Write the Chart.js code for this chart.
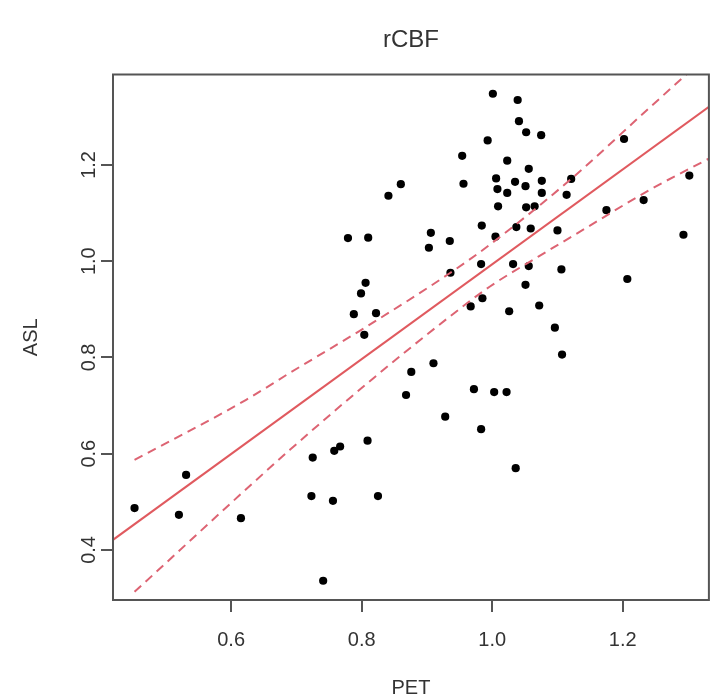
<!DOCTYPE html>
<html>
<head>
<meta charset="utf-8">
<script src="https://cdn.jsdelivr.net/npm/chart.js@4/dist/chart.umd.min.js"></script>
<style>
  html, body { margin: 0; padding: 0; background: #ffffff; }
  #wrap { width: 713px; height: 698px; }
</style>
</head>
<body>
<div id="wrap"><canvas id="chart" width="713" height="698"></canvas></div>
<script>
// Regional cerebral blood flow: PET vs ASL measurements
const petValues = [
  0.452, 0.531, 0.520, 0.615, 0.725, 0.723, 0.741, 0.876, 0.868, 0.972,
  1.003, 1.022, 0.928, 0.983, 1.036, 0.809, 0.767, 0.758, 0.756, 0.825,
  0.860, 0.841, 0.956, 0.984, 0.779, 0.810, 0.906, 0.903, 0.935, 0.936,
  0.983, 0.806, 0.799, 0.788, 0.822, 0.804, 0.967, 0.985, 0.910, 1.001,
  1.039, 1.041, 1.052, 1.075, 0.993, 0.954, 1.023, 1.056, 1.202, 1.006,
  1.035, 1.051, 1.076, 1.008, 1.023, 1.076, 1.121, 1.114, 1.009, 1.052,
  1.065, 1.037, 1.059, 1.005, 1.100, 1.175, 1.232, 1.032, 1.056, 1.106,
  1.207, 1.051, 1.026, 1.072, 1.096, 1.107, 1.302, 1.293
];
const aslValues = [
  0.487, 0.556, 0.473, 0.466, 0.592, 0.512, 0.336, 0.770, 0.722, 0.734,
  0.728, 0.728, 0.677, 0.651, 0.570, 0.627, 0.615, 0.606, 0.502, 0.512,
  1.160, 1.136, 1.161, 1.074, 1.048, 1.049, 1.059, 1.028, 1.042, 0.976,
  0.994, 0.955, 0.933, 0.890, 0.892, 0.847, 0.906, 0.923, 0.788, 1.348,
  1.335, 1.291, 1.268, 1.262, 1.251, 1.219, 1.209, 1.192, 1.254, 1.172,
  1.165, 1.156, 1.167, 1.150, 1.142, 1.142, 1.171, 1.138, 1.114, 1.112,
  1.114, 1.071, 1.068, 1.051, 1.064, 1.106, 1.127, 0.994, 0.990, 0.983,
  0.963, 0.951, 0.896, 0.908, 0.862, 0.806, 1.178, 1.055
];

// Fitted regression line (end points at the plot edges)
const fitX = [0.419, 1.332];
const fitY = [0.421, 1.321];

// Confidence band of the fit
const upperX = [0.452, 0.623, 0.690, 0.805, 0.936, 0.996, 1.121, 1.241, 1.332];
const upperY = [0.587, 0.712, 0.768, 0.862, 0.976, 1.034, 1.171, 1.319, 1.430];
const lowerX = [0.452, 0.690, 0.818, 0.935, 0.996, 1.070, 1.123, 1.241, 1.333];
const lowerY = [0.313, 0.608, 0.757, 0.885, 0.947, 1.009, 1.052, 1.148, 1.214];

const xTicks = [0.6, 0.8, 1.0, 1.2];
const yTicks = [0.4, 0.6, 0.8, 1.0, 1.2];

const xRange = [0.419, 1.332];
const yRange = [0.296, 1.388];

const pairs = (xs, ys) => xs.map((x, i) => ({ x: x, y: ys[i] }));

const FONT = "'Liberation Sans', Arial, Helvetica, sans-serif";
const TEXT = '#333333';
const AXIS = '#555555';
const FIT_RED = '#e05a5f';
const BAND_RED = '#dd6473';

// Frame around the plotting region
const frame = {
  id: 'frame',
  afterDatasetsDraw(chart) {
    const a = chart.chartArea;
    const ctx = chart.ctx;
    ctx.save();
    ctx.strokeStyle = AXIS;
    ctx.lineWidth = 2;
    ctx.strokeRect(a.left, a.top, a.right - a.left, a.bottom - a.top);
    ctx.restore();
  }
};

new Chart(document.getElementById('chart'), {
  type: 'scatter',
  data: {
    datasets: [
      {
        label: 'fit',
        data: pairs(fitX, fitY),
        showLine: true,
        borderColor: FIT_RED,
        borderWidth: 2,
        pointRadius: 0,
        fill: false
      },
      {
        label: 'upper',
        data: pairs(upperX, upperY),
        showLine: true,
        borderColor: BAND_RED,
        borderWidth: 2,
        borderDash: [9, 6],
        cubicInterpolationMode: 'monotone',
        pointRadius: 0,
        fill: false
      },
      {
        label: 'lower',
        data: pairs(lowerX, lowerY),
        showLine: true,
        borderColor: BAND_RED,
        borderWidth: 2,
        borderDash: [9, 6],
        cubicInterpolationMode: 'monotone',
        pointRadius: 0,
        fill: false
      },
      {
        label: 'rCBF',
        data: pairs(petValues, aslValues),
        showLine: false,
        pointRadius: 4.1,
        pointHoverRadius: 4.1,
        pointBackgroundColor: '#000000',
        pointBorderWidth: 0
      }
    ]
  },
  options: {
    responsive: false,
    animation: false,
    devicePixelRatio: 1,
    layout: { padding: { left: 0, right: 3, top: 0, bottom: 0 } },
    plugins: {
      legend: { display: false },
      tooltip: { enabled: false },
      title: {
        display: true,
        text: 'rCBF',
        fullSize: false,
        color: TEXT,
        font: { family: FONT, size: 24, weight: 'normal', lineHeight: 1.2 },
        padding: { top: 25.6, bottom: 20.1 }
      }
    },
    scales: {
      x: {
        type: 'linear',
        position: 'bottom',
        min: xRange[0],
        max: xRange[1],
        afterBuildTicks: s => { s.ticks = xTicks.map(v => ({ value: v })); },
        afterFit: s => { s.height = 98; },
        border: { display: false },
        grid: {
          drawOnChartArea: false,
          drawTicks: true,
          tickLength: 12,
          color: AXIS,
          lineWidth: 2
        },
        ticks: {
          autoSkip: false,
          maxRotation: 0,
          padding: 16,
          color: TEXT,
          font: { family: FONT, size: 20, lineHeight: 1.2 },
          callback: v => Number(v).toFixed(1)
        },
        title: {
          display: true,
          text: 'PET',
          color: TEXT,
          font: { family: FONT, size: 20, lineHeight: 1 },
          padding: { top: 0, bottom: 0 }
        }
      },
      y: {
        type: 'linear',
        position: 'left',
        min: yRange[0],
        max: yRange[1],
        afterBuildTicks: s => { s.ticks = yTicks.map(v => ({ value: v })); },
        afterFit: s => { s.width = 113; },
        border: { display: false },
        grid: {
          drawOnChartArea: false,
          drawTicks: true,
          tickLength: 12,
          color: AXIS,
          lineWidth: 2
        },
        ticks: {
          autoSkip: false,
          minRotation: 90,
          maxRotation: 90,
          crossAlign: 'center',
          padding: -2,
          color: TEXT,
          font: { family: FONT, size: 20, lineHeight: 1.2 },
          callback: v => Number(v).toFixed(1)
        },
        title: {
          display: true,
          text: 'ASL',
          color: TEXT,
          font: { family: FONT, size: 20, lineHeight: 1 },
          padding: { top: 21, bottom: 0 }
        }
      }
    }
  },
  plugins: [frame]
});
</script>
</body>
</html>
